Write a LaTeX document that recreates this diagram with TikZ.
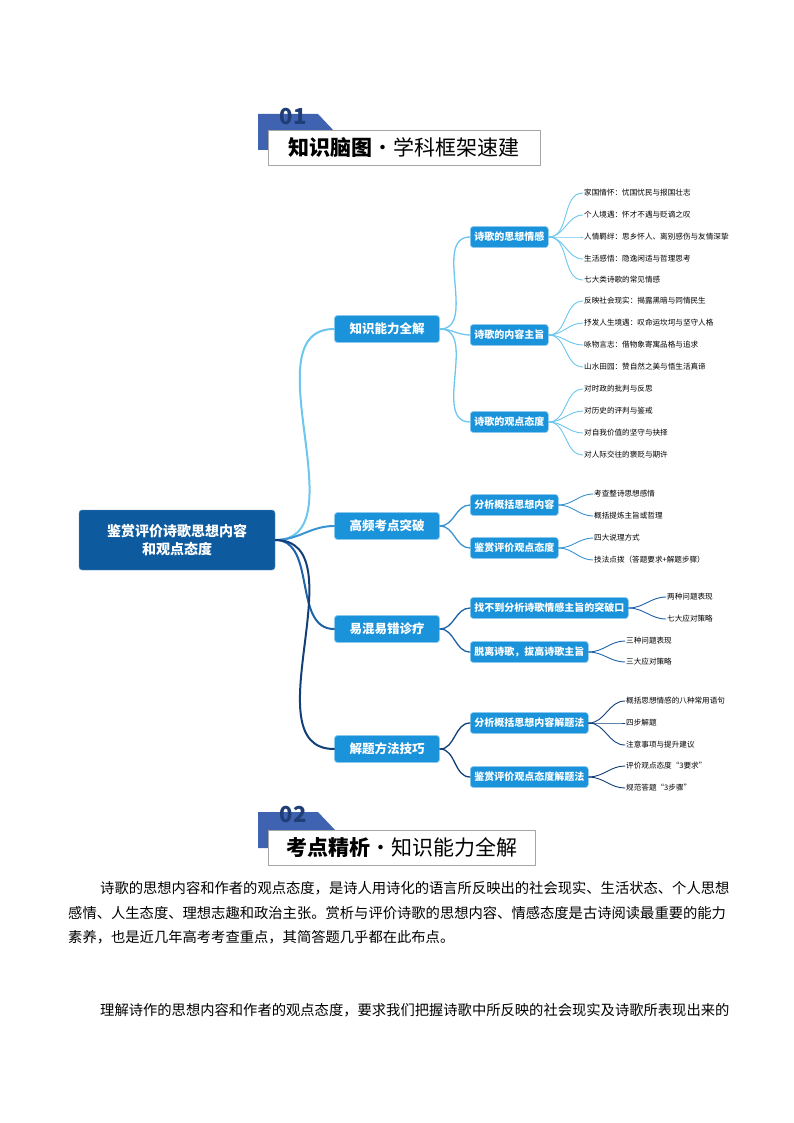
\documentclass[tikz,border=0pt]{standalone}
\usepackage{fontspec}
\setmainfont{Noto Sans CJK SC}
\definecolor{rootc}{HTML}{0D5A9E}
\definecolor{boxc}{HTML}{1A93DB}
\definecolor{c1}{HTML}{6CC6EE}
\definecolor{c2}{HTML}{3A93D2}
\definecolor{c3}{HTML}{1E62A8}
\definecolor{c4}{HTML}{123F78}
\definecolor{tabc}{HTML}{3F63B0}
\definecolor{numc}{HTML}{1F3E78}
\begin{document}
\begin{tikzpicture}[x=1pt,y=-1pt,
 root/.style={fill=rootc,draw=rootc!60,rounded corners=3pt,text=white,font=\fontsize{14}{18}\selectfont\bfseries,minimum width=196pt,minimum height=60pt,align=center},
 l1/.style={fill=boxc,draw=boxc!50,line width=0.8pt,rounded corners=3pt,text=white,font=\fontsize{12.5}{14}\selectfont\bfseries,minimum width=105pt,minimum height=27pt},
 l2/.style={fill=boxc,draw=boxc!50,line width=0.6pt,rounded corners=3pt,text=white,font=\fontsize{10}{12}\selectfont\bfseries,minimum height=21pt,inner xsep=4pt,anchor=west},
 lf/.style={font=\fontsize{7.6}{9}\selectfont,anchor=west,inner sep=1pt},
 cn/.style={line width=#1, line cap=round},
 ptxt/.style={font=\fontsize{14.3}{18}\selectfont,anchor=west,inner sep=0pt},
 num/.style={font=\fontsize{22}{22}\selectfont\bfseries,text=numc},
 head/.style={draw=gray!70,fill=white,minimum height=35pt,font=\fontsize{21}{22}\selectfont,anchor=north west}]
\useasboundingbox (0,0) rectangle (794,1123);

% header 1
\fill[tabc] (258,114) -- (318,114) -- (335,132) -- (268,132) -- (268,150) -- (258,150) -- cycle;
\node[num] (n01) at (293,117) {01};
\node[head,minimum width=272pt] (h1) at (268,130) {{\bfseries 知识脑图}·学科框架速建};

% root and level 1
\node[root] (r) at (177,540) {鉴赏评价诗歌思想内容\\和观点态度};
\node[l1] (a) at (387,329) {知识能力全解};
\node[l1] (b) at (387,526) {高频考点突破};
\node[l1] (c) at (387,629) {易混易错诊疗};
\node[l1] (d) at (387,749) {解题方法技巧};
\draw[cn=2pt,c1] (r.east) to[out=0,in=180] (a.west);
\draw[cn=2pt,c2] (r.east) to[out=0,in=180] (b.west);
\draw[cn=2pt,c3] (r.east) to[out=0,in=180] (c.west);
\draw[cn=2pt,c4] (r.east) to[out=0,in=180] (d.west);

% level 2
\node[l2] (a1) at (470,237) {诗歌的思想情感};
\node[l2] (a2) at (470,335) {诗歌的内容主旨};
\node[l2] (a3) at (470,422) {诗歌的观点态度};
\node[l2] (b1) at (470,505) {分析概括思想内容};
\node[l2] (b2) at (470,548) {鉴赏评价观点态度};
\node[l2] (c1n) at (470,608) {找不到分析诗歌情感主旨的突破口};
\node[l2] (c2n) at (470,652) {脱离诗歌，拔高诗歌主旨};
\node[l2] (d1) at (470,723) {分析概括思想内容解题法};
\node[l2] (d2) at (470,777) {鉴赏评价观点态度解题法};
\foreach \p/\q/\c in {a/a1/c1,a/a2/c1,a/a3/c1,b/b1/c2,b/b2/c2,c/c1n/c3,c/c2n/c3,d/d1/c4,d/d2/c4}
  \draw[cn=1.3pt,\c] (\p.east) to[out=0,in=180] (\q.west);

% leaves
\node[lf] (a11) at (583,193) {家国情怀：忧国忧民与报国壮志};
\node[lf] (a12) at (583,215) {个人境遇：怀才不遇与贬谪之叹};
\node[lf] (a13) at (583,237) {人情羁绊：思乡怀人、离别感伤与友情深挚};
\node[lf] (a14) at (583,259) {生活感悟：隐逸闲适与哲理思考};
\node[lf] (a15) at (583,280) {七大类诗歌的常见情感};
\node[lf] (a21) at (583,301) {反映社会现实：揭露黑暗与同情民生};
\node[lf] (a22) at (583,323) {抒发人生境遇：叹命运坎坷与坚守人格};
\node[lf] (a23) at (583,345) {咏物言志：借物象寄寓品格与追求};
\node[lf] (a24) at (583,367) {山水田园：赞自然之美与悟生活真谛};
\node[lf] (a31) at (583,389) {对时政的批判与反思};
\node[lf] (a32) at (583,411) {对历史的评判与鉴戒};
\node[lf] (a33) at (583,433) {对自我价值的坚守与抉择};
\node[lf] (a34) at (583,455) {对人际交往的褒贬与期许};
\node[lf] (b11) at (593,494) {考查整诗思想感情};
\node[lf] (b12) at (593,516) {概括提炼主旨或哲理};
\node[lf] (b21) at (593,538) {四大说理方式};
\node[lf] (b22) at (593,560) {技法点拨（答题要求+解题步骤）};
\node[lf] (c11) at (666,597) {两种问题表现};
\node[lf] (c12) at (666,619) {七大应对策略};
\node[lf] (c21) at (625,641) {三种问题表现};
\node[lf] (c22) at (625,662) {三大应对策略};
\node[lf] (d11) at (625,701) {概括思想情感的八种常用语句};
\node[lf] (d12) at (625,723) {四步解题};
\node[lf] (d13) at (625,745) {注意事项与提升建议};
\node[lf] (d21) at (625,766) {评价观点态度“3要求”};
\node[lf] (d22) at (625,788) {规范答题“3步骤”};
\foreach \p/\q/\c in {a1/a11/c1,a1/a12/c1,a1/a13/c1,a1/a14/c1,a1/a15/c1,
  a2/a21/c1,a2/a22/c1,a2/a23/c1,a2/a24/c1,a3/a31/c1,a3/a32/c1,a3/a33/c1,a3/a34/c1,
  b1/b11/c2,b1/b12/c2,b2/b21/c2,b2/b22/c2,c1n/c11/c3,c1n/c12/c3,c2n/c21/c3,c2n/c22/c3,
  d1/d11/c4,d1/d12/c4,d1/d13/c4,d2/d21/c4,d2/d22/c4}
  \draw[cn=0.9pt,\c] (\p.east) to[out=0,in=180] (\q.west);

% header 2
\fill[tabc] (258,812) -- (318,812) -- (335,830) -- (268,830) -- (268,848) -- (258,848) -- cycle;
\node[num] (n02) at (293,815) {02};
\node[head,minimum width=267pt] (h2) at (268,830) {{\bfseries 考点精析}·知识能力全解};

% paragraph
\node[ptxt] (p1) at (100,888) {诗歌的思想内容和作者的观点态度，是诗人用诗化的语言所反映出的社会现实、生活状态、个人思想};
\node[ptxt] (p2) at (68,913) {感情、人生态度、理想志趣和政治主张。赏析与评价诗歌的思想内容、情感态度是古诗阅读最重要的能力};
\node[ptxt] (p3) at (68,937) {素养，也是近几年高考考查重点，其简答题几乎都在此布点。};
\node[ptxt] (p4) at (100,1010) {理解诗作的思想内容和作者的观点态度，要求我们把握诗歌中所反映的社会现实及诗歌所表现出来的};
\end{tikzpicture}
\end{document}
